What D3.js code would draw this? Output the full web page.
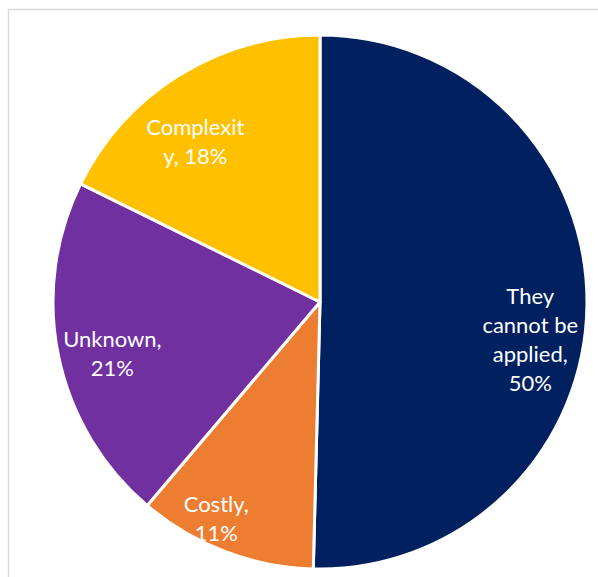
<!DOCTYPE html>
<html>
<head>
<meta charset="utf-8">
<script src="https://cdn.jsdelivr.net/npm/d3@7"></script>
<style>
  html, body { margin: 0; padding: 0; background: #fff; }
  svg { display: block; }
</style>
</head>
<body>
<svg id="chart" width="598" height="577"></svg>
<script>
const categories = ["They cannot be applied", "Costly", "Unknown", "Complexity"];
const values = [50.4, 10.8, 21.1, 17.7];
const labelLines = [
  ["They", "cannot be", "applied,", "50%"],
  ["Costly,", "11%"],
  ["Unknown,", "21%"],
  ["Complexit", "y, 18%"]
];
const colors = ["#002060", "#ED7D31", "#7030A0", "#FFC000"];

const svg = d3.select("#chart");
const W = 598, H = 577;

// outer frame
svg.append("rect")
  .attr("x", 8.5).attr("y", 9.5)
  .attr("width", W + 10).attr("height", H + 10)
  .attr("fill", "#fff")
  .attr("stroke", "#d9d9d9").attr("stroke-width", 1.5);

const cx = 320, cy = 302, R = 267;
const g = svg.append("g").attr("transform", `translate(${cx},${cy})`);

const data = categories.map((c, i) => ({ name: c, value: values[i], lines: labelLines[i], color: colors[i] }));
const pie = d3.pie().sort(null).value(d => d.value);
const arc = d3.arc().innerRadius(0).outerRadius(R);
const arcs = pie(data);

g.selectAll("path.slice")
  .data(arcs)
  .enter().append("path")
  .attr("class", "slice")
  .attr("d", arc)
  .attr("fill", d => d.data.color)
  .attr("stroke", "#fff")
  .attr("stroke-width", 3)
  .attr("stroke-linejoin", "round");

// label placement: radius fraction along slice bisector plus a small nudge
const labelRadius = [0.78, 0.87, 0.80, 0.75];
const labelNudge = [[2, 35.5], [-21, 0], [1.5, 8.3], [-19, 10]];
const lineH = 29;
const labelPos = arcs.map((a, i) => {
  const ang = (a.startAngle + a.endAngle) / 2;
  const r = R * labelRadius[i];
  return [Math.sin(ang) * r + labelNudge[i][0], -Math.cos(ang) * r + labelNudge[i][1]];
});

g.selectAll("text.lbl")
  .data(arcs)
  .enter().append("text")
  .attr("class", "lbl")
  .attr("text-anchor", "middle")
  .attr("font-family", "Lato, 'Open Sans', sans-serif")
  .attr("font-size", 22)
  .attr("fill", "#fff")
  .each(function(d, i) {
    const [x, y] = labelPos[i];
    const n = d.data.lines.length;
    const t = d3.select(this);
    d.data.lines.forEach((ln, k) => {
      t.append("tspan")
        .attr("x", x)
        .attr("y", y + (k - (n - 1) / 2) * lineH + 7.5)
        .text(ln);
    });
  });
</script>
</body>
</html>
